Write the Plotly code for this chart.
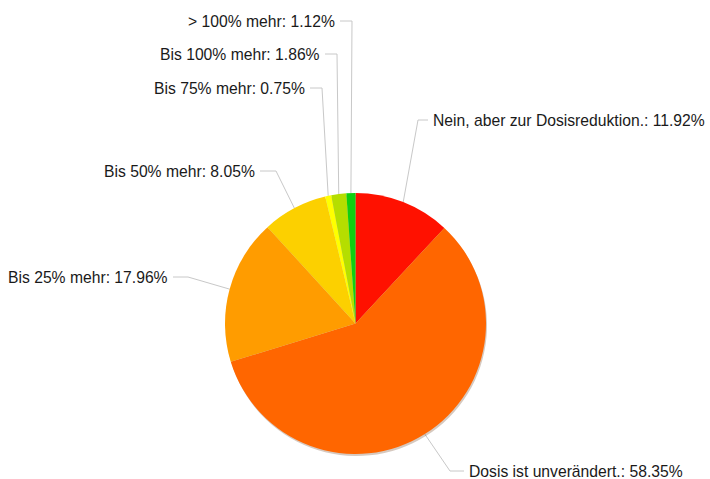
import math
import plotly.graph_objects as go

labels = [
    "Nein, aber zur Dosisreduktion.",
    "Dosis ist unverändert.",
    "Bis 25% mehr",
    "Bis 50% mehr",
    "Bis 75% mehr",
    "Bis 100% mehr",
    "> 100% mehr",
]
values = [11.92, 58.35, 17.96, 8.05, 0.75, 1.86, 1.12]
colors = ["#FF1100", "#FF6600", "#FF9C00", "#FCD000", "#FFFF00", "#B5DE00", "#10D010"]

W, H = 710, 479
cx, cy, r = 355.5, 323.5, 130.5

# label placement (pixels): text x, text y, anchor side, elbow x
label_pos = [
    (431, 120, "left", 418),
    (467, 471, "left", 450),
    (170, 277, "right", 188),
    (257, 171, "right", 276),
    (307, 88, "right", 322),
    (322, 54, "right", 337),
    (337, 21, "right", 352),
]

fig = go.Figure()

dom_x = [(cx - r) / W, (cx + r) / W]
dom_y = [(H - cy - r) / H, (H - cy + r) / H]

# soft shadow
fig.add_trace(go.Pie(
    values=values, sort=False, direction="clockwise",
    marker=dict(colors=["rgba(90,40,0,0.25)"] * len(values), line=dict(width=0)),
    textinfo="none", hoverinfo="skip", showlegend=False,
    domain=dict(x=[dom_x[0] + 1 / W, dom_x[1] + 1 / W], y=[dom_y[0] - 2 / H, dom_y[1] - 2 / H]),
))

fig.add_trace(go.Pie(
    labels=labels, values=values, sort=False, direction="clockwise",
    marker=dict(colors=colors, line=dict(width=0)),
    textinfo="none", showlegend=False,
    domain=dict(x=dom_x, y=dom_y),
))

total = sum(values)
cum = 0
for lab, v, (tx, ty, side, ex) in zip(labels, values, label_pos):
    mid = (cum + v / 2) / total * 2 * math.pi
    cum += v
    px = cx + r * math.sin(mid)
    py = cy - r * math.cos(mid)
    end = tx - 3 if side == "left" else tx + 3
    fig.add_trace(go.Scatter(
        x=[px, ex, end], y=[py, ty, ty], mode="lines",
        line=dict(color="#C8C8C8", width=1),
        hoverinfo="skip", showlegend=False,
    ))
    fig.add_annotation(
        x=tx, y=ty, xref="x", yref="y", text=f"{lab}: {v:.2f}%",
        showarrow=False, xanchor=side, yanchor="middle",
        font=dict(size=15.7, color="#1a1a1a"),
    )

fig.update_xaxes(range=[0, W], visible=False, fixedrange=True)
fig.update_yaxes(range=[H, 0], visible=False, fixedrange=True)
fig.update_layout(
    width=W, height=H,
    margin=dict(l=0, r=0, t=0, b=0),
    paper_bgcolor="white", plot_bgcolor="rgba(0,0,0,0)",
    font=dict(family="Liberation Sans, Arial, sans-serif"),
)

fig.write_html("out.html", post_script="document.body.style.margin='0';",
               config={"displayModeBar": False})
